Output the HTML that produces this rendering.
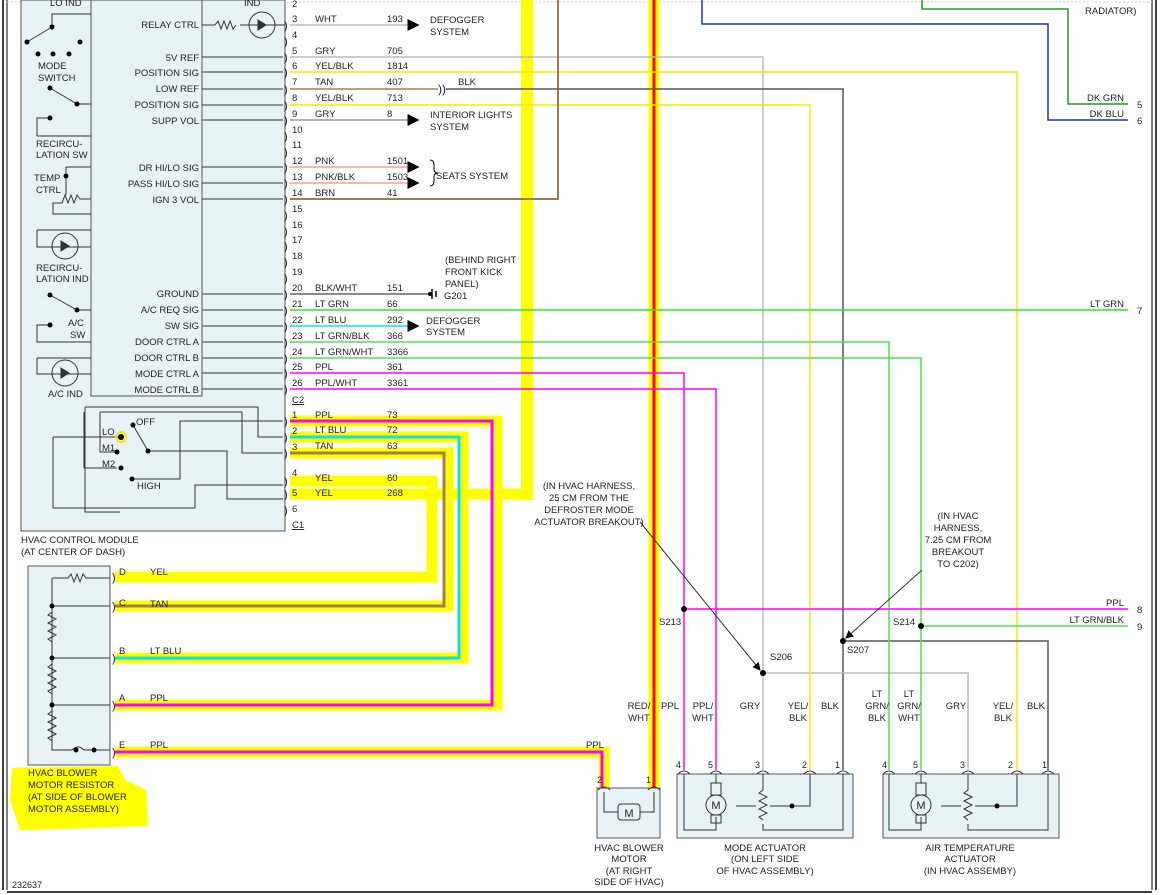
<!DOCTYPE html>
<html><head><meta charset="utf-8"><style>
html,body{margin:0;padding:0;background:#fff;}
svg{display:block;font-family:"Liberation Sans",sans-serif;font-size:9.5px;}
text{fill:#222;}
</style></head><body>
<svg width="1161" height="895" viewBox="0 0 1161 895" xmlns="http://www.w3.org/2000/svg">
<defs>
<marker id="ar" markerWidth="8" markerHeight="8" refX="7" refY="4" orient="auto"><path d="M0,0 L8,4 L0,8 Z" fill="#000"/></marker>
</defs>
<line x1="3" y1="0" x2="3" y2="890" stroke="#000" stroke-width="1.5"/>
<line x1="7" y1="0" x2="7" y2="890" stroke="#000" stroke-width="1"/>
<line x1="1152" y1="0" x2="1152" y2="890" stroke="#000" stroke-width="1"/>
<line x1="1156" y1="0" x2="1156" y2="890" stroke="#000" stroke-width="1.5"/>
<line x1="7" y1="892" x2="1152" y2="892" stroke="#000" stroke-width="1.5"/>
<line x1="7" y1="2" x2="1152" y2="2" stroke="#ccc" stroke-width="1" stroke-dasharray="2,2"/>

<rect x="21" y="0" width="264" height="531" fill="#e8f3f8" stroke="#555"/>
<rect x="91" y="0" width="111" height="396" fill="#e8f3f8" stroke="#555"/>
<rect x="28" y="566" width="82" height="199" fill="#e8f3f8" stroke="#555"/>
<rect x="597" y="788" width="63" height="50" fill="#e8f3f8" stroke="#555"/>
<rect x="677" y="774" width="176" height="64" fill="#e8f3f8" stroke="#555"/>
<rect x="883" y="774" width="176" height="64" fill="#e8f3f8" stroke="#555"/>

<g fill="none" stroke="#ffff00" stroke-linejoin="miter">
<path d="M290,421 H497 V705 H115" stroke-width="11"/>
<path d="M290,437 H463 V658 H115" stroke-width="11"/>
<path d="M290,453 H448 V606 H115" stroke-width="11"/>
<path d="M290,481 H432 V577 H115" stroke-width="11"/>
<path d="M290,494 H527 V0" stroke-width="11"/>
<path d="M527,0 V500" stroke-width="12"/>
<path d="M115,752 H604 V787" stroke-width="11"/>
<path d="M654,0 V787" stroke-width="11"/>
</g>
<g fill="none" stroke-width="3">
<path d="M290,421 H492 V705 H115" stroke="#ff00ff"/>
<path d="M290,437 H459 V658 H115" stroke="#00e5ee"/>
<path d="M290,453 H444 V606 H115" stroke="#a08050"/>
<path d="M115,752 H602 V787" stroke="#ff00ff"/>
<path d="M654,0 V787" stroke="#ff0000"/>
</g>

<g fill="none" stroke-width="1.5">
<path d="M290,25 H418" stroke="#bbb" marker-end="url(#ar)"/>
<path d="M290,57 H763 V770" stroke="#bbb"/>
<path d="M290,72 H1017 V770" stroke="#eeee00"/>
<path d="M290,89 H438" stroke="#a08050"/>
<path d="M446,89 H843 V770" stroke="#555"/>
<path d="M843,641 H1048 V770" stroke="#555"/>
<path d="M763,673 H968 V770" stroke="#bbb"/>
<path d="M290,105 H810 V770" stroke="#eeee00"/>
<path d="M290,120 H418" stroke="#999" marker-end="url(#ar)"/>
<path d="M290,167 H418" stroke="#ff9999" marker-end="url(#ar)"/>
<path d="M290,183 H418" stroke="#ff9999" marker-end="url(#ar)"/>
<path d="M290,199 H558 V0" stroke="#7a5010"/>
<path d="M290,294 H432" stroke="#666"/>
<path d="M290,310 H1128" stroke="#22ee22"/>
<path d="M290,326 H418" stroke="#00e5ee" marker-end="url(#ar)"/>
<path d="M290,342 H889 V770" stroke="#55dd55"/>
<path d="M290,358 H921 V770" stroke="#55dd55"/>
<path d="M921,626 H1128" stroke="#55dd55"/>
<path d="M290,373 H684 V770" stroke="#ff00ff"/>
<path d="M684,609 H1128" stroke="#ff00ff"/>
<path d="M290,389 H716 V770" stroke="#ff00ff"/>
<path d="M702,0 V24 H1048 V120 H1128" stroke="#1a3a9a"/>
<path d="M922,0 V9 H1068 V104 H1128" stroke="#229922"/>
</g>
<text x="438" y="93" font-size="12">))</text>
<g stroke="#000" stroke-width="1.5"><line x1="432" y1="289" x2="432" y2="299"/><line x1="436" y1="291" x2="436" y2="297"/></g>
<circle cx="430" cy="294" r="2" fill="#000"/>

<g fill="#000"><circle cx="684" cy="609" r="3"/><circle cx="763" cy="673" r="3"/><circle cx="843" cy="641" r="3"/><circle cx="921" cy="626" r="3"/></g>
<g stroke="#333" fill="none"><path d="M640,522 L760,670" marker-end="url(#ar)"/><path d="M922,570 L846,638" marker-end="url(#ar)"/></g>

<g font-size="9.5">
<text x="292" y="7">2</text><text x="292" y="22">3</text><text x="292" y="38">4</text><text x="292" y="54">5</text><text x="292" y="69">6</text><text x="292" y="85">7</text><text x="292" y="101">8</text><text x="292" y="117">9</text><text x="292" y="133">10</text><text x="292" y="148">11</text><text x="292" y="164">12</text><text x="292" y="180">13</text><text x="292" y="196">14</text><text x="292" y="212">15</text><text x="292" y="228">16</text><text x="292" y="243">17</text><text x="292" y="259">18</text><text x="292" y="275">19</text><text x="292" y="291">20</text><text x="292" y="307">21</text><text x="292" y="323">22</text><text x="292" y="339">23</text><text x="292" y="355">24</text><text x="292" y="370">25</text><text x="292" y="386">26</text>
<text x="292" y="403" text-decoration="underline">C2</text>
<text x="292" y="418">1</text><text x="292" y="434">2</text><text x="292" y="450">3</text><text x="292" y="476">4</text><text x="292" y="496">5</text><text x="292" y="512">6</text>
<text x="292" y="528" text-decoration="underline">C1</text>
</g>
<g font-size="11" fill="#333">
<text x="284" y="29">)</text><text x="284" y="45">)</text><text x="284" y="61">)</text><text x="284" y="76">)</text><text x="284" y="93">)</text><text x="284" y="109">)</text><text x="284" y="124">)</text><text x="284" y="140">)</text><text x="284" y="156">)</text><text x="284" y="171">)</text><text x="284" y="187">)</text><text x="284" y="203">)</text><text x="284" y="219">)</text><text x="284" y="235">)</text><text x="284" y="250">)</text><text x="284" y="266">)</text><text x="284" y="282">)</text><text x="284" y="298">)</text><text x="284" y="314">)</text><text x="284" y="330">)</text><text x="284" y="346">)</text><text x="284" y="362">)</text><text x="284" y="377">)</text><text x="284" y="393">)</text>
<text x="284" y="425">)</text><text x="284" y="441">)</text><text x="284" y="457">)</text><text x="284" y="485">)</text><text x="284" y="498">)</text><text x="284" y="514">)</text>
<text x="112" y="581">)</text><text x="112" y="610">)</text><text x="112" y="662">)</text><text x="112" y="709">)</text><text x="112" y="756">)</text>
</g>

<g stroke="#333" fill="none" stroke-width="1">
<path d="M202,25 H215 M240,25 H285"/><path d="M215,25 l3,-4 l3,8 l3,-8 l3,8 l3,-8 l3,8 l3,-4"/>
<circle cx="262" cy="25" r="13"/><path d="M258,20 v10 l8,-5 z" fill="#333"/>
<path d="M202,57 H283 M202,72 H283 M202,89 H283 M202,105 H283 M202,120 H283 M202,167 H283 M202,183 H283 M202,199 H283 M202,294 H283 M202,310 H283 M202,326 H283 M202,342 H283 M202,358 H283 M202,373 H283 M202,389 H283"/>
<path d="M52,30 V14 H91 M52,27 L27,42"/><path d="M50,88 L77,104 H91"/><path d="M37,136 V118 H50 M37,136 H91"/>
<path d="M66,167 V195 M91,167 H66 M91,199 H80 l-3,-4 l-3,8 l-3,-8 l-3,8 l-3,-8 l-3,8 H53 V214 H91"/>
<path d="M37,230 V247 H91 M37,230 H91"/><circle cx="65" cy="246" r="13"/><path d="M61,241 v10 l8,-5 z" fill="#333"/>
<path d="M50,295 L77,310 H91 M50,325 H37 V342 H91 M37,358 V374 H91 M37,358 H91"/><circle cx="65" cy="373" r="13"/><path d="M61,368 v10 l8,-5 z" fill="#333"/>
<path d="M85,407 V512 H120 M85,407 H258 V437 H283 M100,412 H242 V453 H283 M100,412 V452 H117 M53,437 V508 H195 V485 H283 M53,437 H120 M84,468 H117 M84,468 V412 M148,451 H227 V499 H283 M132,479 H180 V421 H283 M148,451 L133,425"/>
<path d="M52,578 V750 H72 q6,-6 12,0 H110 M52,578 H68 l3,-4 l3,8 l3,-8 l3,8 l3,-8 l3,4 H110 M52,606 H110 M52,658 H110 M52,705 H110"/>
<path d="M52,612 l-4,3 l8,4 l-8,4 l8,4 l-8,4 l8,4 l-8,4 l4,3 M52,664 l-4,3 l8,4 l-8,4 l8,4 l-8,4 l8,4 l-8,4 l4,3 M52,711 l-4,3 l8,4 l-8,4 l8,4 l-8,4 l8,4 l-8,4 l4,3"/>
</g>
<g fill="#000"><circle cx="52" cy="27" r="2.5"/><circle cx="27" cy="42" r="2.5"/><circle cx="80" cy="42" r="2.5"/><circle cx="38" cy="54" r="2.5"/><circle cx="53" cy="54" r="2.5"/><circle cx="69" cy="54" r="2.5"/><circle cx="50" cy="88" r="2.5"/><circle cx="77" cy="104" r="2.5"/><circle cx="50" cy="118" r="2.5"/><circle cx="66" cy="176" r="2.5"/><circle cx="50" cy="295" r="2.5"/><circle cx="77" cy="310" r="2.5"/><circle cx="50" cy="325" r="2.5"/><circle cx="121" cy="437" r="3"/><circle cx="117" cy="452" r="2.5"/><circle cx="121" cy="468" r="2.5"/><circle cx="132" cy="479" r="2.5"/><circle cx="133" cy="425" r="2.5"/><circle cx="148" cy="451" r="2.5"/><circle cx="52" cy="606" r="2.5"/><circle cx="52" cy="658" r="2.5"/><circle cx="52" cy="705" r="2.5"/><circle cx="76" cy="750" r="2.5"/><circle cx="94" cy="750" r="2.5"/></g>
<circle cx="121" cy="437" r="5" fill="none" stroke="#ee0" stroke-width="2"/>

<g text-anchor="end">
<text x="199" y="28">RELAY CTRL</text><text x="199" y="61">5V REF</text><text x="199" y="76">POSITION SIG</text><text x="199" y="92">LOW REF</text><text x="199" y="108">POSITION SIG</text><text x="199" y="124">SUPP VOL</text><text x="199" y="171">DR HI/LO SIG</text><text x="199" y="187">PASS HI/LO SIG</text><text x="199" y="203">IGN 3 VOL</text><text x="199" y="297">GROUND</text><text x="199" y="313">A/C REQ SIG</text><text x="199" y="329">SW SIG</text><text x="199" y="345">DOOR CTRL A</text><text x="199" y="361">DOOR CTRL B</text><text x="199" y="377">MODE CTRL A</text><text x="199" y="393">MODE CTRL B</text>
</g>
<text x="50" y="6">LO IND</text><text x="244" y="6">IND</text>
<text x="38" y="69">MODE</text><text x="38" y="81">SWITCH</text>
<text x="36" y="147">RECIRCU-</text><text x="36" y="158">LATION SW</text>
<text x="34" y="181">TEMP</text><text x="36" y="193">CTRL</text>
<text x="36" y="271">RECIRCU-</text><text x="36" y="282">LATION IND</text>
<text x="68" y="326">A/C</text><text x="70" y="338">SW</text><text x="48" y="397">A/C IND</text>
<text x="136" y="425">OFF</text><text x="102" y="435">LO</text><text x="102" y="451">M1</text><text x="102" y="467">M2</text><text x="137" y="489">HIGH</text>
<text x="21" y="543">HVAC CONTROL MODULE</text><text x="21" y="555">(AT CENTER OF DASH)</text>

<g>
<text x="315" y="22">WHT</text><text x="387" y="22">193</text><text x="430" y="23">DEFOGGER</text><text x="430" y="35">SYSTEM</text>
<text x="315" y="54">GRY</text><text x="387" y="54">705</text>
<text x="315" y="69">YEL/BLK</text><text x="387" y="69">1814</text>
<text x="315" y="85">TAN</text><text x="387" y="85">407</text><text x="458" y="85">BLK</text>
<text x="315" y="101">YEL/BLK</text><text x="387" y="101">713</text>
<text x="315" y="117">GRY</text><text x="387" y="117">8</text><text x="430" y="118">INTERIOR LIGHTS</text><text x="430" y="130">SYSTEM</text>
<text x="315" y="164">PNK</text><text x="387" y="164">1501</text>
<text x="315" y="180">PNK/BLK</text><text x="387" y="180">1503</text><text x="436" y="179">SEATS SYSTEM</text>
<text x="315" y="196">BRN</text><text x="387" y="196">41</text>
<text x="445" y="263">(BEHIND RIGHT</text><text x="445" y="275">FRONT KICK</text><text x="445" y="287">PANEL)</text><text x="444" y="299">G201</text>
<text x="315" y="291">BLK/WHT</text><text x="387" y="291">151</text>
<text x="315" y="307">LT GRN</text><text x="387" y="307">66</text>
<text x="315" y="323">LT BLU</text><text x="387" y="323">292</text><text x="426" y="324">DEFOGGER</text><text x="426" y="335">SYSTEM</text>
<text x="315" y="339">LT GRN/BLK</text><text x="387" y="339">366</text>
<text x="315" y="355">LT GRN/WHT</text><text x="387" y="355">3366</text>
<text x="315" y="370">PPL</text><text x="387" y="370">361</text>
<text x="315" y="386">PPL/WHT</text><text x="387" y="386">3361</text>
<text x="315" y="418">PPL</text><text x="387" y="418">73</text>
<text x="315" y="433">LT BLU</text><text x="387" y="433">72</text>
<text x="315" y="449">TAN</text><text x="387" y="449">63</text>
<text x="315" y="481">YEL</text><text x="387" y="481">60</text>
<text x="315" y="496">YEL</text><text x="387" y="496">268</text>
<text x="119" y="575">D</text><text x="150" y="575">YEL</text>
<text x="119" y="606">C</text><text x="150" y="607">TAN</text>
<text x="119" y="654">B</text><text x="150" y="654">LT BLU</text>
<text x="119" y="701">A</text><text x="150" y="701">PPL</text>
<text x="119" y="748">E</text><text x="150" y="748">PPL</text>
<text x="586" y="748">PPL</text>
<path d="M430,160 q4,0 4,5 v4 q0,4 4,4 q-4,0 -4,4 v4 q0,5 -4,5" fill="none" stroke="#000"/>
</g>
<text x="1085" y="14">RADIATOR)</text>
<text x="1124" y="101" text-anchor="end">DK GRN</text><text x="1137" y="108">5</text>
<text x="1124" y="117" text-anchor="end">DK BLU</text><text x="1137" y="124">6</text>
<text x="1124" y="307" text-anchor="end">LT GRN</text><text x="1137" y="314">7</text>
<text x="1124" y="606" text-anchor="end">PPL</text><text x="1137" y="613">8</text>
<text x="1124" y="623" text-anchor="end">LT GRN/BLK</text><text x="1137" y="630">9</text>
<text x="659" y="625">S213</text><text x="770" y="660">S206</text><text x="847" y="653">S207</text><text x="893" y="625">S214</text>
<g text-anchor="middle">
<text x="589" y="489">(IN HVAC HARNESS,</text><text x="589" y="501">25 CM FROM THE</text><text x="589" y="513">DEFROSTER MODE</text><text x="589" y="525">ACTUATOR BREAKOUT)</text>
<text x="958" y="519">(IN HVAC</text><text x="958" y="531">HARNESS,</text><text x="958" y="543">7.25 CM FROM</text><text x="958" y="555">BREAKOUT</text><text x="958" y="567">TO C202)</text>
</g>

<g text-anchor="middle">
<text x="639" y="709">RED/</text><text x="639" y="721">WHT</text><text x="670" y="709">PPL</text>
<text x="703" y="709">PPL/</text><text x="703" y="721">WHT</text><text x="750" y="709">GRY</text>
<text x="798" y="709">YEL/</text><text x="798" y="721">BLK</text><text x="830" y="709">BLK</text>
<text x="877" y="697">LT</text><text x="877" y="709">GRN/</text><text x="877" y="721">BLK</text>
<text x="909" y="697">LT</text><text x="909" y="709">GRN/</text><text x="909" y="721">WHT</text>
<text x="956" y="709">GRY</text><text x="1003" y="709">YEL/</text><text x="1003" y="721">BLK</text><text x="1036" y="709">BLK</text>
<text x="629" y="851">HVAC BLOWER</text><text x="629" y="862">MOTOR</text><text x="629" y="874">(AT RIGHT</text><text x="629" y="885">SIDE OF HVAC)</text>
<text x="765" y="851">MODE ACTUATOR</text><text x="765" y="862">(ON LEFT SIDE</text><text x="765" y="874">OF HVAC ASSEMBLY)</text>
<text x="970" y="851">AIR TEMPERATURE</text><text x="970" y="862">ACTUATOR</text><text x="970" y="874">(IN HVAC ASSEMBY)</text>
</g>
<g font-size="9">
<text x="597" y="783">2</text><text x="646" y="783">1</text>
<text x="676" y="768">4</text><text x="708" y="768">5</text><text x="755" y="768">3</text><text x="802" y="768">2</text><text x="835" y="768">1</text>
<text x="882" y="768">4</text><text x="913" y="768">5</text><text x="960" y="768">3</text><text x="1008" y="768">2</text><text x="1042" y="768">1</text>
</g>
<g stroke="#333" fill="none">
<path d="M604,792 v20 h14 M654,792 v20 h-14"/><rect x="618" y="804" width="22" height="16" rx="3"/>
<path d="M684,774 V830 H716 V817 M716,774 V783 M763,774 V790 M763,824 V830 H843 V774 M810,774 V806 H770 M736,806 H756"/>
<path d="M763,790 l-4,3 l8,4 l-8,4 l8,4 l-8,4 l8,4 l-8,4 l4,3"/>
<circle cx="716" cy="805" r="10"/><rect x="711" y="783" width="10" height="12"/><rect x="711" y="815" width="10" height="8"/>
<path d="M889,774 V830 H921 V817 M921,774 V783 M968,774 V790 M968,824 V830 H1048 V774 M1017,774 V806 H975 M941,806 H961"/>
<path d="M968,790 l-4,3 l8,4 l-8,4 l8,4 l-8,4 l8,4 l-8,4 l4,3"/>
<circle cx="921" cy="805" r="10"/><rect x="916" y="783" width="10" height="12"/><rect x="916" y="815" width="10" height="8"/>
<path d="M598,790 q6,-6 12,0 M648,790 q6,-6 12,0 M678,774 q6,-6 12,0 M710,774 q6,-6 12,0 M757,774 q6,-6 12,0 M804,774 q6,-6 12,0 M837,774 q6,-6 12,0 M883,774 q6,-6 12,0 M915,774 q6,-6 12,0 M962,774 q6,-6 12,0 M1011,774 q6,-6 12,0 M1042,774 q6,-6 12,0"/>
</g>
<text x="629" y="817" text-anchor="middle" font-size="11">M</text>
<text x="716" y="809" text-anchor="middle" font-size="11">M</text>
<text x="921" y="809" text-anchor="middle" font-size="11">M</text>
<circle cx="792" cy="806" r="2.5" fill="#000"/><circle cx="997" cy="806" r="2.5" fill="#000"/>

<path d="M12,768 L118,766 L125,780 L146,790 L148,826 L20,830 L10,800 Z" fill="#ffff00"/>
<text x="28" y="776">HVAC BLOWER</text><text x="28" y="788">MOTOR RESISTOR</text><text x="28" y="800">(AT SIDE OF BLOWER</text><text x="28" y="812">MOTOR ASSEMBLY)</text>
<text x="12" y="888" font-size="9">232637</text>
</svg>
</body></html>
